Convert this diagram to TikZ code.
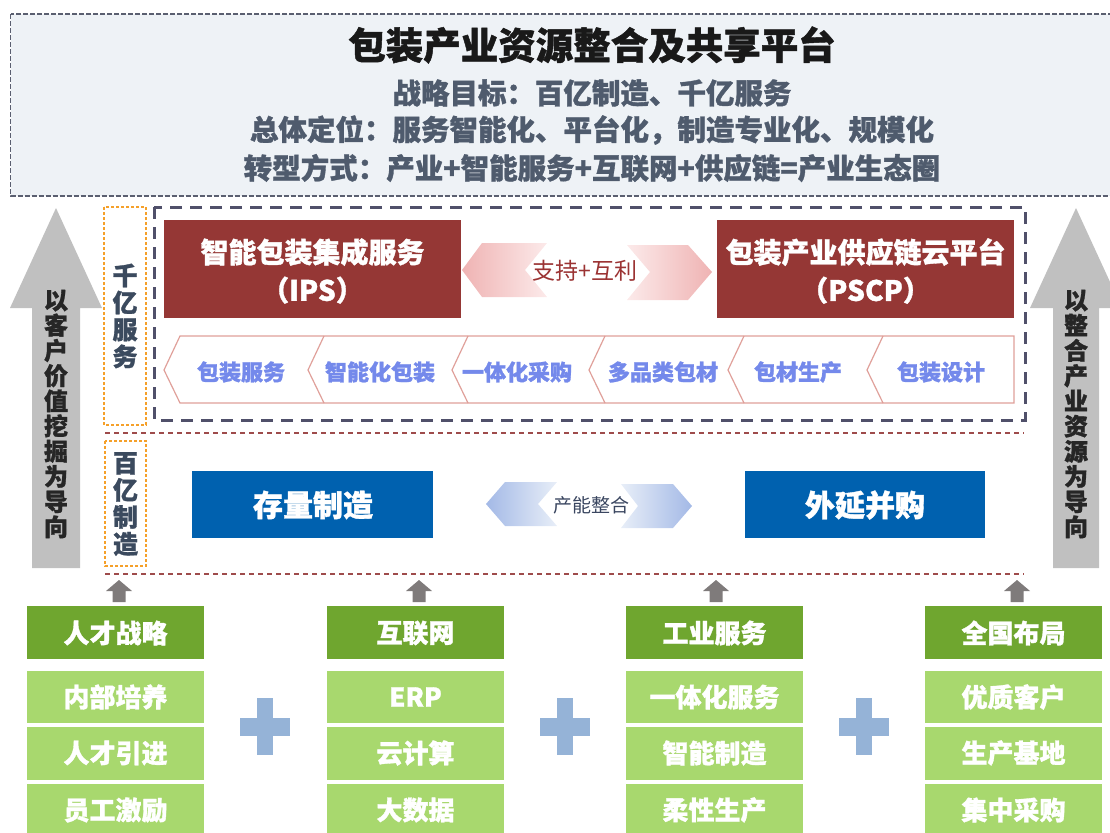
\documentclass[tikz,border=0pt]{standalone}
\usepackage{fontspec}
\setmainfont{Noto Sans CJK SC}[BoldFeatures={FakeBold=1.2}]
\definecolor{bannerfill}{HTML}{EEF2F6}
\definecolor{bannerline}{HTML}{5A5F70}
\definecolor{subtxt}{HTML}{4F5B6D}
\definecolor{bigarrow}{HTML}{C0C0C0}
\definecolor{orangeline}{HTML}{F5A02A}
\definecolor{darkdash}{HTML}{50506A}
\definecolor{reddash}{HTML}{9E4B4B}
\definecolor{brick}{HTML}{953735}
\definecolor{pinkdark}{HTML}{EFB3B3}
\definecolor{pinklight}{HTML}{FCEAEA}
\definecolor{pinktxt}{HTML}{9B3333}
\definecolor{chevline}{HTML}{E0A09A}
\definecolor{chevtxt}{HTML}{7489EB}
\definecolor{bluebox}{HTML}{0061AF}
\definecolor{bluedark}{HTML}{A3B9E6}
\definecolor{bluelight}{HTML}{E8EEF8}
\definecolor{bluetxt}{HTML}{3A4660}
\definecolor{smallarrow}{HTML}{7F7B7B}
\definecolor{greendark}{HTML}{6FA62F}
\definecolor{greenlight}{HTML}{A8D86E}
\definecolor{plusblue}{HTML}{95B3D7}
\definecolor{vtxt}{HTML}{3B4A5E}
\begin{document}
\begin{tikzpicture}[x=1pt,y=-1pt,
  every node/.style={inner sep=0pt,outer sep=0pt},
  titletxt/.style={font=\bfseries\fontsize{37.5}{40}\selectfont,text=black!90},
  subline/.style={font=\bfseries\fontsize{28.5}{30}\selectfont,text=subtxt},
  arrowtxt/.style={font=\bfseries\fontsize{24}{25.2}\selectfont,text=black!85,align=center},
  vlabel/.style={font=\bfseries\fontsize{25}{27}\selectfont,text=vtxt,align=center},
  orangebox/.style={draw=orangeline,line width=1.5pt,dash pattern=on 3pt off 2pt},
  redline/.style={draw=reddash,line width=2pt,dash pattern=on 5pt off 4pt},
  brickbox/.style={fill=brick},
  bricktxt/.style={font=\bfseries\fontsize{28}{38}\selectfont,text=white,align=center},
  chevlabel/.style={font=\bfseries\fontsize{22}{24}\selectfont,text=chevtxt},
  bluetext/.style={font=\bfseries\fontsize{30}{32}\selectfont,text=white},
  greenhead/.style={fill=greendark},
  greensub/.style={fill=greenlight},
  greentxt/.style={font=\bfseries\fontsize{26}{28}\selectfont,text=white},
  upsmall/.style={fill=smallarrow},
  plussign/.style={fill=plusblue}
]
\useasboundingbox (0,0) rectangle (1110,832);

% ---- top banner ----
\draw[fill=bannerfill,draw=bannerline,line width=1.5pt,dash pattern=on 5pt off 2pt]
  (10.5,14) rectangle (1125,196);
\node[titletxt] (title) at (592,45) {包装产业资源整合及共享平台};
\node[subline] (goal) at (592,93) {战略目标：百亿制造、千亿服务};
\node[subline] (pos) at (592,130) {总体定位：服务智能化、平台化，制造专业化、规模化};
\node[subline] (way) at (592,168) {转型方式：产业+智能服务+互联网+供应链=产业生态圈};

% ---- big side arrows ----
\fill[bigarrow] (32,568) -- (32,308) -- (10,308) -- (56,208) -- (102,308) -- (80,308) -- (80,568) -- cycle;
\fill[bigarrow] (1053,568) -- (1053,308) -- (1030,308) -- (1076,208) -- (1122,308) -- (1099,308) -- (1099,568) -- cycle;
\node[arrowtxt] (ltxt) at (56,414) {以\\客\\户\\价\\值\\挖\\掘\\为\\导\\向};
\node[arrowtxt] (rtxt) at (1076,414) {以\\整\\合\\产\\业\\资\\源\\为\\导\\向};

% ---- side labels ----
\draw[orangebox] (104,207) rectangle (146,425);
\node[vlabel] (qy) at (125,316) {千\\亿\\服\\务};
\draw[orangebox] (105,441) rectangle (146,566);
\node[vlabel] (by) at (125.5,504) {百\\亿\\制\\造};

% ---- dashed frames ----
\draw[draw=darkdash,line width=3pt,dash pattern=on 12pt off 8pt] (154,207) rectangle (1025,420);
\draw[redline] (105,433) -- (1024,433);
\draw[redline] (105,574) -- (1024,574);

% ---- IPS / PSCP ----
\fill[brickbox] (164,220) rectangle (461,318);
\node[bricktxt] (ips) at (312.5,271) {智能包装集成服务\\（IPS）};
\fill[brickbox] (717,220) rectangle (1014,318);
\node[bricktxt] (pscp) at (865.5,271) {包装产业供应链云平台\\（PSCP）};
\shade[left color=pinkdark,right color=pinklight] (462,270) -- (482,243) -- (547,243) -- (525,270) -- (547,297) -- (482,297) -- cycle;
\shade[left color=pinklight,right color=pinkdark] (627,245) -- (688,245) -- (712,272) -- (688,300) -- (627,300) -- (650,272) -- cycle;
\node[font=\fontsize{23}{25}\selectfont,text=pinktxt] (zc) at (585,271) {支持+互利};

% ---- chevron row ----
\draw[chevline,line width=1.2pt,fill=white] (180,336) -- (1014,336) -- (1014,403) -- (180,403) -- (164,370) -- cycle;
\foreach \xx in {324,468,605,744,883}
  \draw[chevline,line width=1.2pt] (\xx,336) -- (\xx-16,370) -- (\xx,403);
\node[chevlabel] (c1) at (241,372) {包装服务};
\node[chevlabel] (c2) at (380,372) {智能化包装};
\node[chevlabel] (c3) at (517,372) {一体化采购};
\node[chevlabel] (c4) at (663,372) {多品类包材};
\node[chevlabel] (c5) at (798,372) {包材生产};
\node[chevlabel] (c6) at (941,372) {包装设计};

% ---- manufacturing ----
\fill[bluebox] (192,471) rectangle (433,538);
\node[bluetext] (cl) at (313,505) {存量制造};
\fill[bluebox] (745,471) rectangle (985,538);
\node[bluetext] (wy) at (865,505) {外延并购};
\shade[left color=bluedark,right color=bluelight] (486,504) -- (505,482) -- (557,482) -- (538,504) -- (557,526) -- (505,526) -- cycle;
\shade[left color=bluelight,right color=bluedark] (621,484) -- (673,484) -- (692,506) -- (673,528) -- (621,528) -- (638,506) -- cycle;
\node[font=\fontsize{19}{21}\selectfont,text=bluetxt] (cn) at (591,505) {产能整合};

% ---- small up arrows ----
\foreach \cx in {119,419,716,1017}
  \fill[upsmall] (\cx-6.5,602) -- (\cx-6.5,591) -- (\cx-13,591) -- (\cx,580) -- (\cx+13,591) -- (\cx+6.5,591) -- (\cx+6.5,602) -- cycle;

% ---- green columns ----
\foreach \lx/\ha/\sa/\sb/\sc [count=\i] in
  {27/人才战略/内部培养/人才引进/员工激励,
   327/互联网/ERP/云计算/大数据,
   626/工业服务/一体化服务/智能制造/柔性生产,
   925/全国布局/优质客户/生产基地/集中采购}{
  \fill[greenhead] (\lx,606) rectangle (\lx+177,659);
  \node[greentxt] (h\i) at (\lx+88.5,633) {\ha};
  \fill[greensub] (\lx,671) rectangle (\lx+177,723);
  \node[greentxt] (s\i a) at (\lx+88.5,697) {\sa};
  \fill[greensub] (\lx,727) rectangle (\lx+177,780);
  \node[greentxt] (s\i b) at (\lx+88.5,753) {\sb};
  \fill[greensub] (\lx,784) rectangle (\lx+177,840);
  \node[greentxt] (s\i c) at (\lx+88.5,810) {\sc};
}

% ---- plus signs ----
\foreach \px in {265,565,864}{
  \fill[plussign] (\px-8,698) rectangle (\px+8,755);
  \fill[plussign] (\px-25,718) rectangle (\px+25,736);
}
\end{tikzpicture}
\end{document}
